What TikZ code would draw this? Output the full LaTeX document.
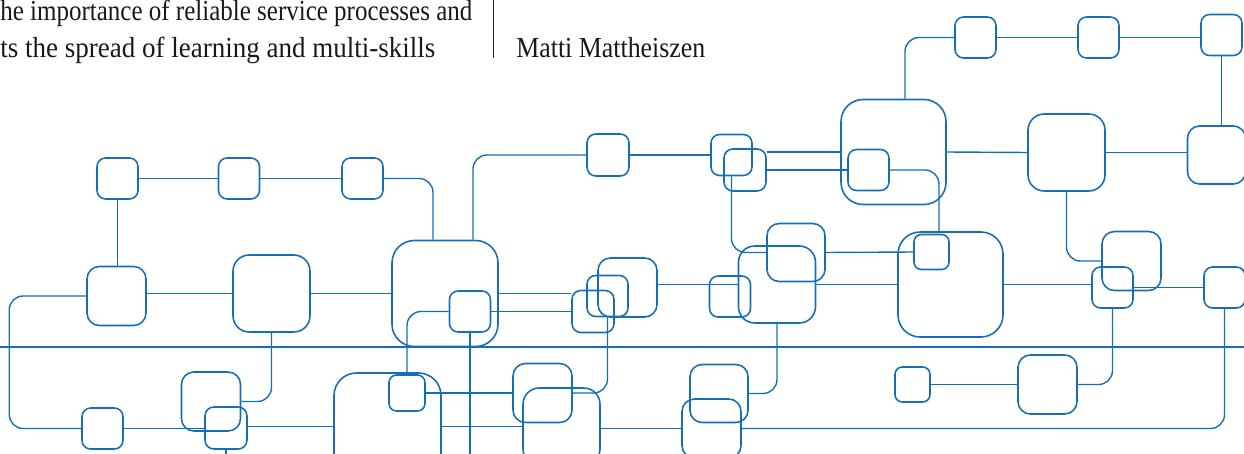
\documentclass[tikz,border=0pt]{standalone}
\usepackage{fontspec}
\setmainfont{Liberation Serif}
\usepackage{graphicx}
\usetikzlibrary{calc}
\definecolor{netblue}{RGB}{22,110,182}

\begin{document}
\begin{tikzpicture}[x=0.02cm, y=-0.02cm, blk/.style={draw=netblue, line width=0.9pt, inner sep=0pt, minimum size=#1, rounded corners=0.21*#1}, wire/.style={draw=netblue, line width=0.8pt, rounded corners=0.28cm}, head/.style={font=\fontsize{16.5}{19}\selectfont, text=black!90, inner sep=0pt}]
	\useasboundingbox (0,0) rectangle (1244,453);
	\clip (0,0) rectangle (1244,453);
	% heading
	\node[head, anchor=base west] (l1) at (0,21) {\resizebox{9.44cm}{\height}{he importance of reliable service processes and}};
	\node[head, anchor=base west] (l2) at (0,57) {\resizebox{8.7cm}{\height}{ts the spread of learning and multi-skills}};
	\node[head, anchor=base west] (au) at (516,57) {\resizebox{3.78cm}{\height}{Matti Mattheiszen}};
	\coordinate (sep0) at (493,0);
	\coordinate (sep1) at (493,58);
	\draw[black!85, line width=0.5pt] (sep0) -- (sep1);
	% upper row
	\node[blk=0.82cm] (u1) at (117.5,178.5) {};
	\node[blk=0.82cm] (u2) at (239,178.5) {};
	\node[blk=0.82cm] (u3) at (362.5,178.5) {};
	\node[blk=0.84cm] (u4) at (608,155) {};
	\node[blk=0.82cm] (u5) at (731.5,155) {};
	\node[blk=0.84cm] (u6) at (745,170) {};
	\node[blk=2.1cm] (u7) at (893.5,152) {};
	\node[blk=0.82cm] (u7i) at (868.5,170) {};
	\node[blk=1.54cm] (u8) at (1066.5,152.5) {};
	\node[blk=1.16cm] (u9) at (1216.5,155) {};
	\node[blk=0.82cm] (t1) at (975.5,37.5) {};
	\node[blk=0.82cm] (t2) at (1098.5,37.5) {};
	\node[blk=0.82cm] (t3) at (1221.5,35) {};
	% middle row
	\node[blk=1.18cm] (m1) at (116.5,296) {};
	\node[blk=1.54cm] (m2) at (271.5,293.5) {};
	\node[blk=2.12cm] (m3) at (445,293.5) {};
	\node[blk=0.82cm] (m3i) at (470,311.5) {};
	\node[blk=0.84cm] (m4) at (593,311.5) {};
	\node[blk=0.82cm] (m5) at (607.5,296) {};
	\node[blk=1.18cm] (m6) at (627.5,287.5) {};
	\node[blk=0.82cm] (m7) at (730,296.5) {};
	\node[blk=1.54cm] (m8) at (777,284.5) {};
	\node[blk=1.16cm] (m9) at (796,252.5) {};
	\node[blk=2.1cm] (m10) at (950.5,284.5) {};
	\node[blk=0.7cm] (m10i) at (931.5,252) {};
	\node[blk=1.18cm] (m11) at (1131.5,261) {};
	\node[blk=0.82cm] (m12) at (1112.5,287.5) {};
	\node[blk=0.82cm] (m13) at (1224.5,287.5) {};
	% lower row
	\node[blk=0.82cm] (d1) at (102.5,428.5) {};
	\node[blk=1.18cm] (d2) at (211,401.5) {};
	\node[blk=0.84cm] (d3) at (226,428) {};
	\node[blk=2.14cm] (d4) at (387.5,426.5) {};
	\node[blk=0.72cm] (d5) at (407,393) {};
	\node[blk=1.18cm] (d6) at (542.5,393) {};
	\node[blk=1.54cm] (d7) at (561.5,426.5) {};
	\node[blk=1.16cm] (d8) at (719,393.5) {};
	\node[blk=1.18cm] (d9) at (711.5,428.5) {};
	\node[blk=0.7cm] (d10) at (912.5,384.5) {};
	\node[blk=1.18cm] (d11) at (1047.5,384.5) {};
	\coordinate (rule0) at (0,347);
	\coordinate (rule1) at (1244,347);
	\coordinate (d3end) at (226,460);
	\coordinate (m3end) at (470,460);
	% wires
	\draw[wire] (rule0) -- (rule1);
	\draw[wire] (u1) -- (u2);
	\draw[wire] (u2) -- (u3);
	\draw[wire] (u3.east) -| ($(m3.north)+(-12,0)$);
	\draw[wire] ($(m3.north)+(28,0)$) |- (u4.west);
	\draw[wire] (u4) -- (u5);
	\draw[wire] (u5.south) |- (m9.west);
	\draw[wire] (u7.west -| u6.east) -- (u7.west);
	\draw[wire] (u6.east) -- (u7i.west);
	\draw[wire] (u7i.east) -| ($(m10.north)+(-11.5,0)$);
	\draw[wire] (t1.west) -| ($(u7.north)+(11.5,0)$);
	\draw[wire] (t1) -- (t2);
	\draw[wire] (t2.east) -- (t2.east -| t3.west);
	\draw[wire] (t3.south) -- (t3.south |- u9.north);
	\draw[wire] (u7.east) -- (u8.west);
	\draw[wire] (u8.east) -- (u8.east -| u9.west);
	\draw[wire] (u8.south) |- (m11.west);
	\draw[wire] (u1.south) -- (u1.south |- m1.north);
	\draw[wire] (m2.west -| m1.east) -- (m2.west);
	\draw[wire] (m2.east) -- (m3.west);
	\draw[wire] (m1.west) -| ($(d1.west)+(-72,0)$) -- (d1.west);
	\draw[wire] (d1.east) -- (d1.east -| d3.west);
	\draw[wire] (d3.east |- d4.west) -- (d4.west);
	\draw[wire] (d3.south) -- (d3end);
	\draw[wire] (d2.east) -| (m2.south);
	\draw[wire] (m3i.west) -| (d5.north);
	\draw[wire] (m3i.south) -- (m3end);
	\draw[wire] (m3i.east) -- (m4.west);
	\draw[wire] (m3.east) -- (m3.east -| m4.west);
	\draw[wire] (m5.south) |- (d6.east);
	\draw[wire] (d5.east) -- (d6.west);
	\draw[wire] (d4.east) -- (d7.west);
	\draw[wire] (d7.east |- d9.west) -- (d9.west);
	\draw[wire] (d8.east) -| (m8.south);
	\draw[wire] (m8.west -| m6.east) -- (m8.west);
	\draw[wire] (m8.east) -- (m10.west);
	\draw[wire] (m9.east) -- (m10i.west);
	\draw[wire] (m10.east) -- (m10.east -| m12.west);
	\draw[wire] (m12.east) -- (m13.west);
	\draw[wire] (m12.south) |- (d11.east);
	\draw[wire] (d11.west) -- (d10.east);
	\draw[wire] (m13.south) |- (d9.east);
\end{tikzpicture}
\end{document}
